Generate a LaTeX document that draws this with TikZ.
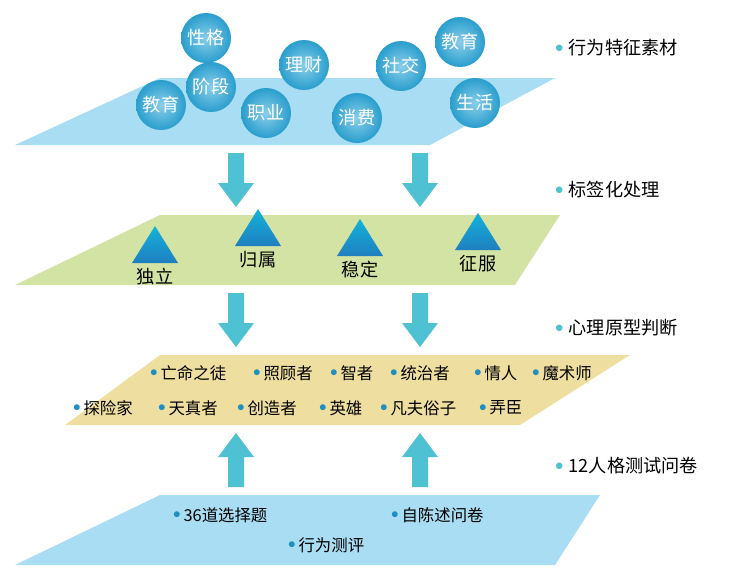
\documentclass[tikz,border=0pt]{standalone}
\usepackage{fontspec}
\setmainfont{Noto Sans CJK SC}
\usetikzlibrary{arrows.meta}
\definecolor{lblue}{HTML}{A9DDF3}
\definecolor{lgreen}{HTML}{D3E3A3}
\definecolor{lyellow}{HTML}{EEDFA0}
\definecolor{arr}{HTML}{4EC1D3}
\definecolor{cir}{HTML}{2BA6D8}
\definecolor{tri}{HTML}{1F7FC0}
\definecolor{dot}{HTML}{1E8FBF}
\tikzset{
 bub/.style={circle,minimum size=1.5cm,inner sep=0pt,text=white,font=\fontsize{15.5}{16}\selectfont,shade,inner color=cir!55,outer color=cir!95!black},
 txt/.style={font=\fontsize{14}{15}\selectfont,inner sep=0pt,anchor=west},
 rtxt/.style={font=\fontsize{15.5}{16}\selectfont,inner sep=0pt,anchor=west},
 tlab/.style={font=\fontsize{15.5}{16}\selectfont,inner sep=0pt}
}
\newcommand{\bul}{\textcolor{dot}{\raisebox{0.15em}{\scalebox{0.9}{$\bullet$}}}\,}
\newcommand{\rbul}{\textcolor{arr}{\raisebox{0.15em}{$\bullet$}}\;}
\begin{document}
\begin{tikzpicture}[x=0.03cm,y=-0.03cm]
\useasboundingbox (0,0) rectangle (729,574);
% layers
\fill[lblue] (160,78) -- (555,78) -- (430,145) -- (15,145) -- cycle;
\fill[lgreen] (160,215) -- (560,215) -- (515,285) -- (15,285) -- cycle;
\fill[lyellow] (160,355) -- (630,355) -- (520,425) -- (65,425) -- cycle;
\fill[lblue] (160,495) -- (600,495) -- (555,565) -- (15,565) -- cycle;
% arrows
\foreach \x in {236,420}{
 \fill[arr] (\x-8,153) -- (\x+8,153) -- (\x+8,183) -- (\x+18,183) -- (\x,207) -- (\x-18,183) -- (\x-8,183) -- cycle;
 \fill[arr] (\x-8,293) -- (\x+8,293) -- (\x+8,323) -- (\x+18,323) -- (\x,347) -- (\x-18,323) -- (\x-8,323) -- cycle;
 \fill[arr] (\x-8,487) -- (\x+8,487) -- (\x+8,457) -- (\x+18,457) -- (\x,433) -- (\x-18,457) -- (\x-8,457) -- cycle;
}
% bubbles
\node[bub] (b1) at (206,38) {性格};
\node[bub] (b2) at (304,65) {理财};
\node[bub] (b3) at (401,66) {社交};
\node[bub] (b4) at (460,42) {教育};
\node[bub] (b5) at (161,105) {教育};
\node[bub] (b6) at (211,87) {阶段};
\node[bub] (b7) at (266,113) {职业};
\node[bub] (b8) at (357,118) {消费};
\node[bub] (b9) at (475,103) {生活};
% triangles
\foreach \x/\y/\t/\n in {155/245/独立/t1,258/228/归属/t2,360/238/稳定/t3,478/232/征服/t4}{
 \shade[top color=tri!60!cyan,bottom color=tri] (\x,\y-19) -- (\x+23,\y+18) -- (\x-23,\y+18) -- cycle;
 \node[tlab] (\n) at (\x,\y+32) {\t};
}
% yellow texts
\node[txt] (y1) at (150,373) {\bul 亡命之徒};
\node[txt] (y2) at (253,373) {\bul 照顾者};
\node[txt] (y3) at (330,373) {\bul 智者};
\node[txt] (y4) at (390,373) {\bul 统治者};
\node[txt] (y5) at (474,373) {\bul 情人};
\node[txt] (y6) at (532,373) {\bul 魔术师};
\node[txt] (z1) at (73,408) {\bul 探险家};
\node[txt] (z2) at (158,408) {\bul 天真者};
\node[txt] (z3) at (237,408) {\bul 创造者};
\node[txt] (z4) at (319,408) {\bul 英雄};
\node[txt] (z5) at (380,408) {\bul 凡夫俗子};
\node[txt] (z6) at (479,408) {\bul 弄臣};
% bottom texts
\node[txt] (q1) at (173,515) {\bul 36道选择题};
\node[txt] (q2) at (391,515) {\bul 自陈述问卷};
\node[txt] (q3) at (288,545) {\bul 行为测评};
% right labels
\node[rtxt] (r1) at (555,48) {\rbul 行为特征素材};
\node[rtxt] (r2) at (555,190) {\rbul 标签化处理};
\node[rtxt] (r3) at (555,328) {\rbul 心理原型判断};
\node[rtxt] (r4) at (555,466) {\rbul 12人格测试问卷};
\end{tikzpicture}
\end{document}
